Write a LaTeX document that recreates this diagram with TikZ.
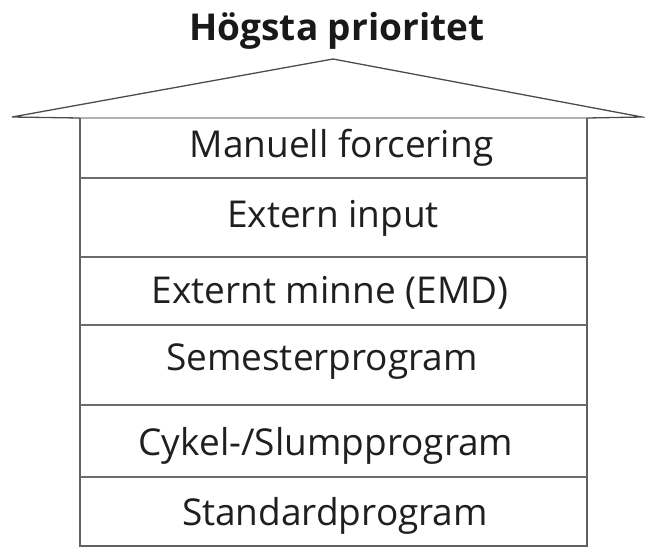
\documentclass[tikz,border=0pt]{standalone}
\usepackage{fontspec}
\setmainfont{Open Sans}
\begin{document}
\begin{tikzpicture}[x=1pt,y=-1pt,
  rowtext/.style={anchor=base,inner sep=0pt,font=\fontsize{37}{42}\selectfont,text=black!88},
  titletext/.style={anchor=base,inner sep=0pt,font=\bfseries\fontsize{37}{42}\selectfont,text=black!90},
  frame/.style={draw=black!62,line width=1.6pt},
  sep/.style={draw=black!58,line width=1.6pt},
  roof/.style={draw=black!70,line width=1.3pt,line join=miter}]
\useasboundingbox (0,0) rectangle (645,550);
% title
\node[titletext] (title) at (337,40) {Högsta prioritet};
% roof
\coordinate (rl) at (12,117);
\coordinate (ra) at (333,59);
\coordinate (rr) at (642,117);
\coordinate (tl) at (80,118);
\coordinate (tr) at (587,118);
\draw[roof] (tl) -- (rl) -- (ra) -- (rr) -- (tr);
\draw[draw=black!30,line width=1.2pt] (tl) -- (tr);
% box frame
\coordinate (bl) at (80,546);
\coordinate (br) at (587,546);
\draw[frame] (tl) -- (bl) -- (br) -- (tr);
% separators
\foreach \yy/\nm in {178/s1,257/s2,325/s3,405/s4,477/s5}{
  \coordinate (\nm l) at (80,\yy);
  \coordinate (\nm r) at (587,\yy);
  \draw[sep] (\nm l) -- (\nm r);
}
% texts
\node[rowtext] (r1) at (341.5,157) {Manuell forcering};
\node[rowtext] (r2) at (333,227) {Extern input};
\node[rowtext] (r3) at (330,303) {Externt minne (EMD)};
\node[rowtext] (r4) at (322,370) {Semesterprogram};
\node[rowtext] (r5) at (326,455) {Cykel-/Slumpprogram};
\node[rowtext] (r6) at (335,525) {Standardprogram};
\end{tikzpicture}
\end{document}
